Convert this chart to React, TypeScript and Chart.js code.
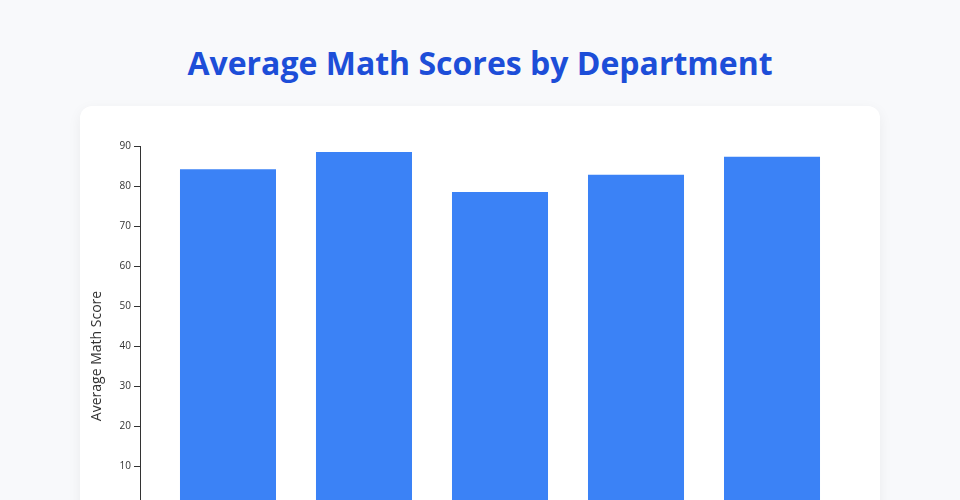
import React, { useEffect, useRef } from "react";
import { Chart, registerables } from "chart.js";

Chart.register(...registerables);

const title = "Average Math Scores by Department";
const yAxisLabel = "Average Math Score";
const departments = ["Engineering", "Science", "Business", "Arts", "Economics"];
const scores = [84.2, 88.5, 78.5, 82.8, 87.3];
const yTicks = { min: 0, max: 90, step: 10 };

const FONT = "'Open Sans', 'Noto Sans', sans-serif";

const yTitlePlugin = {
  id: "yTitle",
  afterDraw(chart: any) {
    const { ctx, chartArea } = chart;
    ctx.save();
    ctx.translate(chartArea.left - 43, chartArea.top + 210);
    ctx.rotate(-Math.PI / 2);
    ctx.font = `14px ${FONT}`;
    ctx.fillStyle = "#333";
    ctx.textAlign = "center";
    ctx.textBaseline = "middle";
    ctx.fillText(yAxisLabel, 0, 0);
    ctx.restore();
  },
};

export default function App() {
  const ref = useRef<HTMLCanvasElement | null>(null);

  useEffect(() => {
    document.body.style.margin = "0";
    document.body.style.background = "#f8f9fb";
    if (!ref.current) return;
    const chart = new Chart(ref.current, {
      type: "bar",
      data: {
        datasets: [
          {
            label: yAxisLabel,
            data: scores.map((v, i) => ({ x: i, y: v })),
            backgroundColor: "#3b82f6",
            borderWidth: 0,
            categoryPercentage: 1,
            barPercentage: 0.706,
          },
        ],
      },
      options: {
        responsive: false,
        animation: false,
        layout: { padding: { left: 0, right: 20, top: 40, bottom: 40 } },
        plugins: {
          legend: { display: false },
          tooltip: { enabled: false },
        },
        scales: {
          x: {
            type: "linear",
            offset: false,
            min: -0.647,
            max: departments.length - 1 + 0.647,
            afterFit: (s: any) => {
              s.height = 40;
            },
            grid: { display: false, offset: false },
            border: { display: false },
            ticks: {
              stepSize: 1,
              includeBounds: false,
              autoSkip: false,
              color: "#333",
              font: { family: FONT, size: 11 },
              callback: (v: any) =>
                Number.isInteger(v) && v >= 0 && v < departments.length ? departments[v] : "",
            },
          },
          y: {
            min: yTicks.min,
            max: yTicks.max,
            afterFit: (s: any) => {
              s.width = 60;
            },
            grid: {
              display: true,
              drawOnChartArea: false,
              drawTicks: true,
              tickLength: 6,
              color: "#333",
              lineWidth: 1,
            },
            border: { display: true, color: "#333", width: 1 },
            ticks: {
              stepSize: yTicks.step,
              padding: 3,
              color: "#333",
              font: { family: FONT, size: 10 },
            },
          },
        },
      },
      plugins: [yTitlePlugin],
    });
    return () => chart.destroy();
  }, []);

  return (
    <div style={{ background: "#f8f9fb", minHeight: "100vh", paddingTop: 42.6, fontFamily: FONT }}>
      <h1
        style={{
          margin: 0,
          textAlign: "center",
          fontSize: 32,
          lineHeight: "40px",
          fontWeight: 700,
          color: "#1d4ed8",
          fontFamily: FONT,
        }}
      >
        {title}
      </h1>
      <div
        style={{
          position: "absolute",
          top: 106,
          left: 80,
          width: 800,
          height: 480,
          background: "#fff",
          borderRadius: 12,
          boxShadow: "0 4px 14px rgba(0,0,0,0.06)",
        }}
      >
        <canvas ref={ref} width={800} height={480} style={{ display: "block" }} />
      </div>
    </div>
  );
}
